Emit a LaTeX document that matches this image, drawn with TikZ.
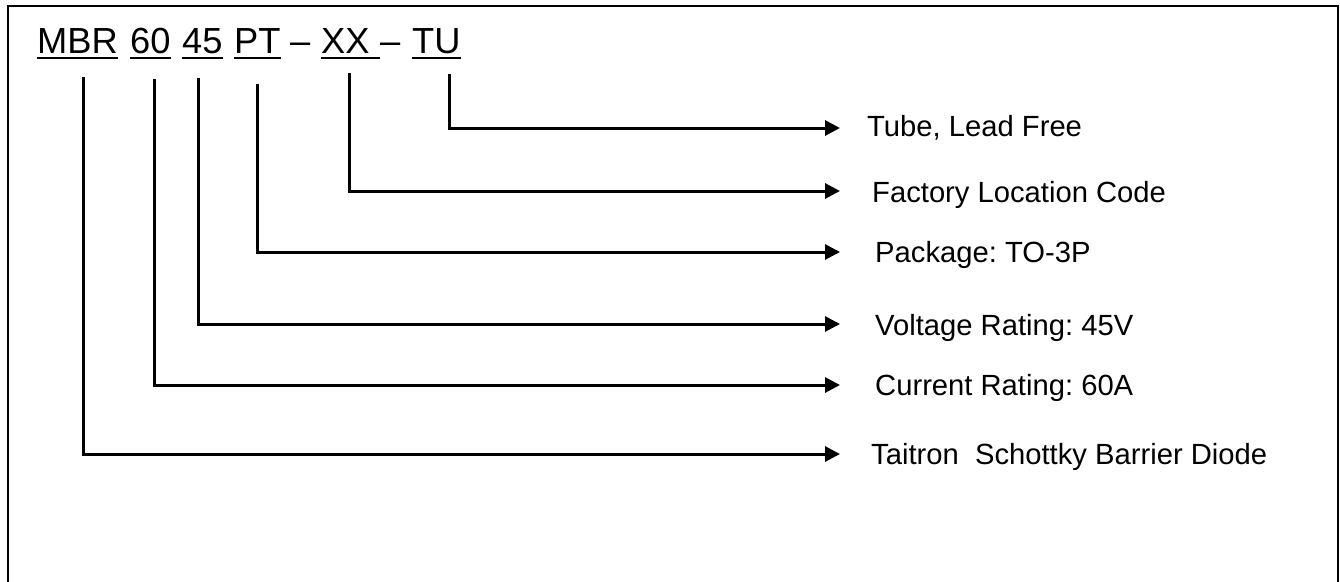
\documentclass[tikz,border=0pt]{standalone}
\usepackage{fontspec}
\setmainfont{Liberation Sans}
\usetikzlibrary{arrows.meta,calc}
\frenchspacing
\begin{document}
\begin{tikzpicture}[x=1pt,y=-1pt,
  tok/.style={anchor=base west,inner sep=0pt,font=\fontsize{36.3}{40}\selectfont},
  lab/.style={anchor=west,inner sep=0pt,text height=20.5pt,text depth=0pt,font=\fontsize{29.2}{32}\selectfont},
  conn/.style={line width=3pt,-{Triangle[length=15pt,width=15pt]}},
  uline/.style={line width=2.5pt},
  frame/.style={line width=2pt}]
\useasboundingbox (0,0) rectangle (1340,581);
\draw[frame] (8,600) -- (8,6) -- (1338,6) -- (1338,600);
% part number tokens
\node[tok] (MBR) at (37,53) {MBR};
\node[tok] (n60) at (130,53) {60};
\node[tok] (n45) at (182,53) {45};
\node[tok] (PT)  at (234,53) {PT};
\node[tok] (d1)  at (290,53) {–};
\node[tok] (XX)  at (321,53) {XX\ \mbox{}};
\node[tok] (d2)  at (380,53) {–};
\node[tok] (TU)  at (412,53) {TU};
\foreach \n in {MBR,n60,n45,PT,XX,TU}
  \draw[uline] ([yshift=-5pt]\n.base west) -- ([yshift=-5pt]\n.base east);
% labels
\node[lab] (lTU)  at (867,126) {Tube, Lead Free};
\node[lab] (lXX)  at (872,192) {Factory Location Code};
\node[lab] (lPT)  at (875,252) {Package: TO-3P};
\node[lab] (l45)  at (875,325) {Voltage Rating: 45V};
\node[lab] (l60)  at (875,385) {Current Rating: 60A};
\node[lab] (lMBR) at (871,454) {Taitron\ \ Schottky Barrier Diode};
% connector start points (below tokens)
\coordinate (sMBR) at (83,77);
\coordinate (s60)  at (154,79);
\coordinate (s45)  at (198,78);
\coordinate (sPT)  at (257,84);
\coordinate (sXX)  at (349,73);
\coordinate (sTU)  at (449,74);
% arrow tips
\coordinate (tTU)  at (840,128);
\coordinate (tXX)  at (840,191);
\coordinate (tPT)  at (840,252);
\coordinate (t45)  at (840,324);
\coordinate (t60)  at (840,385);
\coordinate (tMBR) at (840,454);
\draw[conn] (sTU)  |- (tTU);
\draw[conn] (sXX)  |- (tXX);
\draw[conn] (sPT)  |- (tPT);
\draw[conn] (s45)  |- (t45);
\draw[conn] (s60)  |- (t60);
\draw[conn] (sMBR) |- (tMBR);
\end{tikzpicture}
\end{document}
